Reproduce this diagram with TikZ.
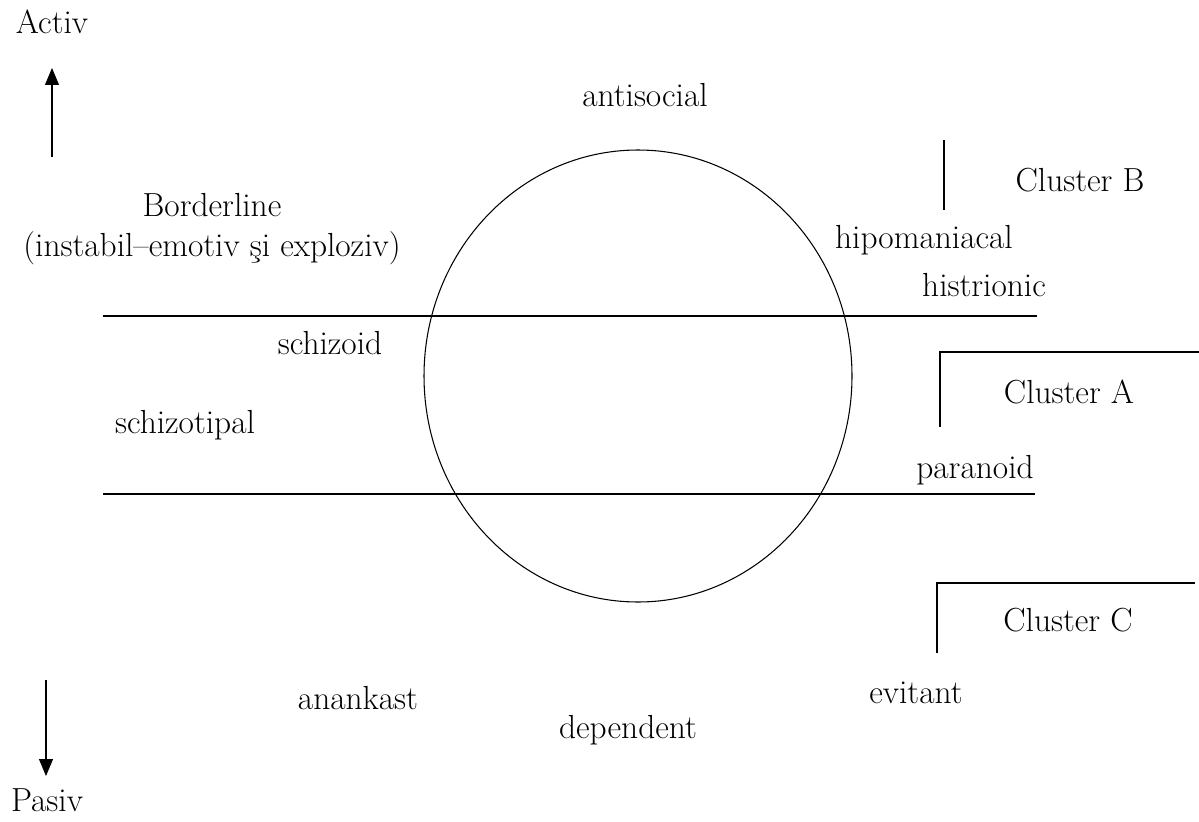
\documentclass[tikz,border=0pt]{standalone}
\usepackage{tikz}
\usetikzlibrary{arrows.meta}
\tikzset{
  >={Triangle[length=3.4mm,width=2.8mm]},
  lbl/.style={inner sep=1pt,font=\fontsize{19}{23}\selectfont},
  ln/.style={line width=0.6pt},
}

\begin{document}
\begin{tikzpicture}[x=0.02cm,y=-0.02cm]
\useasboundingbox (0,0) rectangle (1199,821);

% ================= axis : activ / pasiv =================
\node[lbl] (activ) at (52,22) {Activ};
\node[lbl] (pasiv) at (47,800) {Pasiv};
\coordinate (aup0) at (52,157); \coordinate (aup1) at (52,68);
\coordinate (adn0) at (46,680); \coordinate (adn1) at (46,776);
\draw[ln,->] (aup0) -- (aup1);
\draw[ln,->] (adn0) -- (adn1);

% ================= circle and the two bands =================
\draw[ln] (638,376) circle[x radius=214,y radius=226];
\draw[ln] (103,316) -- (1037,316);
\draw[ln] (103,494) -- (1035,494);

% ================= disorders =================
\node[lbl] (antisocial) at (645,95) {antisocial};
\node[lbl,align=center] (borderline) at (212,229) {Borderline\\(instabil--emotiv şi exploziv)};
\node[lbl,anchor=west] (hipoman) at (833,240) {hipomaniacal};
\node[lbl] (histrionic) at (984,285) {histrionic};
\node[lbl] (schizoid) at (330,343) {schizoid};
\node[lbl] (schizotipal) at (185,425) {schizotipal};
\node[lbl] (paranoid) at (975,470) {paranoid};
\node[lbl] (anankast) at (358,698) {anankast};
\node[lbl] (dependent) at (628,730) {dependent};
\node[lbl] (evitant) at (916,693) {evitant};

% ================= clusters =================
\node[lbl] (clB) at (1080,180) {Cluster B};
\draw[ln] (944,140) -- (944,210);
\node[lbl] (clA) at (1069,392) {Cluster A};
\draw[ln] (940,427) -- (940,352) -- (1199,352);
\node[lbl] (clC) at (1068,620) {Cluster C};
\draw[ln] (937,653) -- (937,583) -- (1195,583);

\end{tikzpicture}
\end{document}
